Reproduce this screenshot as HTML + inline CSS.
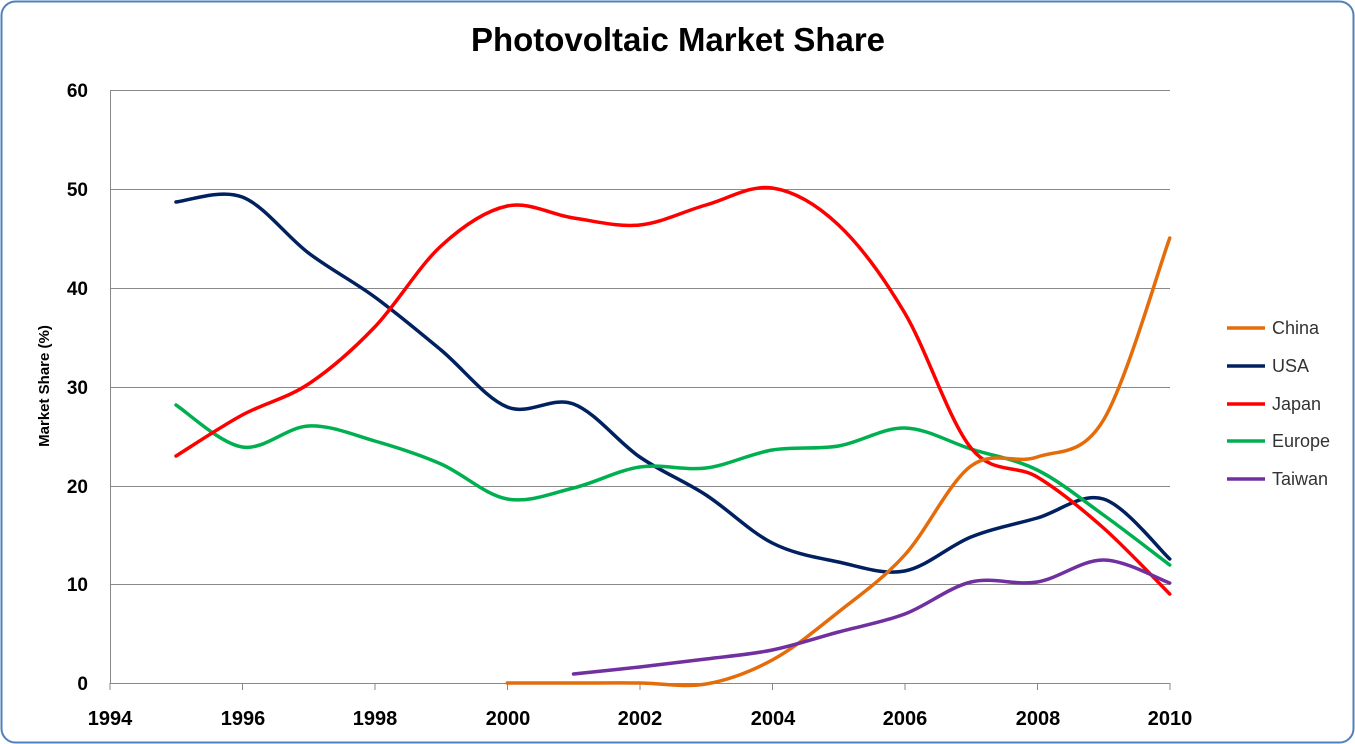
<!DOCTYPE html>
<html><head><meta charset="utf-8"><style>
html,body{margin:0;padding:0;background:#fff;}
svg{display:block;font-family:"Liberation Sans",sans-serif;}
</style></head><body>
<svg id="s" width="1355" height="744" viewBox="0 0 1355 744" xmlns="http://www.w3.org/2000/svg">
<rect x="1.5" y="1.5" width="1352" height="741" rx="14" fill="#fff" stroke="#4f81bd" stroke-width="2"/>
<text x="678" y="51" text-anchor="middle" font-size="33" font-weight="bold" fill="#000" textLength="414" lengthAdjust="spacingAndGlyphs">Photovoltaic Market Share</text>
<g stroke="#888" stroke-width="1">
<line x1="110" y1="90.5" x2="1170" y2="90.5"/>
<line x1="110" y1="189.5" x2="1170" y2="189.5"/>
<line x1="110" y1="288.5" x2="1170" y2="288.5"/>
<line x1="110" y1="387.5" x2="1170" y2="387.5"/>
<line x1="110" y1="486.5" x2="1170" y2="486.5"/>
<line x1="110" y1="584.5" x2="1170" y2="584.5"/>
<line x1="110.5" y1="90" x2="110.5" y2="683"/>
<line x1="110" y1="683.5" x2="1170" y2="683.5"/>
</g>
<g id="ticks" stroke="#888"></g>
<g font-size="19" font-weight="bold" text-anchor="end" fill="#000">
<text x="88" y="97">60</text><text x="88" y="196">50</text><text x="88" y="295">40</text>
<text x="88" y="394">30</text><text x="88" y="493">20</text><text x="88" y="591">10</text><text x="88" y="690">0</text>
</g>
<g font-size="20" font-weight="bold" text-anchor="middle" fill="#000">
<text x="110" y="725">1994</text><text x="243" y="725">1996</text><text x="375" y="725">1998</text>
<text x="508" y="725">2000</text><text x="640" y="725">2002</text><text x="773" y="725">2004</text>
<text x="905" y="725">2006</text><text x="1038" y="725">2008</text><text x="1170" y="725">2010</text>
</g>
<text transform="translate(49,386) rotate(-90)" text-anchor="middle" font-size="15" font-weight="bold">Market Share (%)</text>
<g id="lines" fill="none" stroke-width="3.5" stroke-linecap="round"></g>
<g stroke-width="3.5">
<line x1="1227" y1="328" x2="1265" y2="328" stroke="#e46c0a"/>
<line x1="1227" y1="366" x2="1265" y2="366" stroke="#002060"/>
<line x1="1227" y1="404" x2="1265" y2="404" stroke="#ff0000"/>
<line x1="1227" y1="441" x2="1265" y2="441" stroke="#00b050"/>
<line x1="1227" y1="479" x2="1265" y2="479" stroke="#7030a0"/>
</g>
<g font-size="18" fill="#333">
<text x="1272" y="334">China</text><text x="1272" y="372">USA</text><text x="1272" y="410">Japan</text>
<text x="1272" y="447">Europe</text><text x="1272" y="485">Taiwan</text>
</g>
</svg>
<script>
var X=function(i){return 176+66.25*i;};
var d={
"#002060":[[0,202],[1,197],[2,253],[3,297],[4,350],[5,407],[6,404],[7,457],[8,495],[9,543],[10,562],[11,571],[12,537],[13,518],[14,499],[15,559]],
"#00b050":[[0,405],[1,447],[2,426],[3,441],[4,464],[5,499],[6,488],[7,467],[8,468],[9,450],[10,446],[11,428],[12,449],[13,470],[14,515],[15,565]],
"#ff0000":[[0,456],[1,415],[2,384],[3,327],[4,246],[5,206],[6,218],[7,225],[8,205],[9,188],[10,225],[11,313],[12,448],[13,477],[14,528],[15,594]],
"#e46c0a":[[5,683],[6,683],[7,683],[8,684],[9,660],[10,612],[11,555],[12,466],[13,457],[14,420],[15,238]],
"#7030a0":[[6,674],[7,667],[8,659],[9,650],[10,632],[11,614],[12,582],[13,582],[14,560],[15,583]]
};
var g=document.getElementById('lines');
for(var c in d){var p=d[c].map(function(a){return[X(a[0]),a[1]];});
var s="M"+p[0][0]+","+p[0][1];
for(var i=0;i<p.length-1;i++){var p0=p[i-1]||p[i],p1=p[i],p2=p[i+1],p3=p[i+2]||p2;
s+=" C"+(p1[0]+(p2[0]-p0[0])/6)+","+(p1[1]+(p2[1]-p0[1])/6)+" "+(p2[0]-(p3[0]-p1[0])/6)+","+(p2[1]-(p3[1]-p1[1])/6)+" "+p2[0]+","+p2[1];}
var e=document.createElementNS("http://www.w3.org/2000/svg","path");e.setAttribute("d",s);e.setAttribute("stroke",c);g.appendChild(e);}
var t=document.getElementById('ticks');
for(var k=0;k<=8;k++){var x=110+132.5*k;var l=document.createElementNS("http://www.w3.org/2000/svg","line");
l.setAttribute("x1",x);l.setAttribute("x2",x);l.setAttribute("y1",683);l.setAttribute("y2",690);t.appendChild(l);}
</script>
</body></html>
